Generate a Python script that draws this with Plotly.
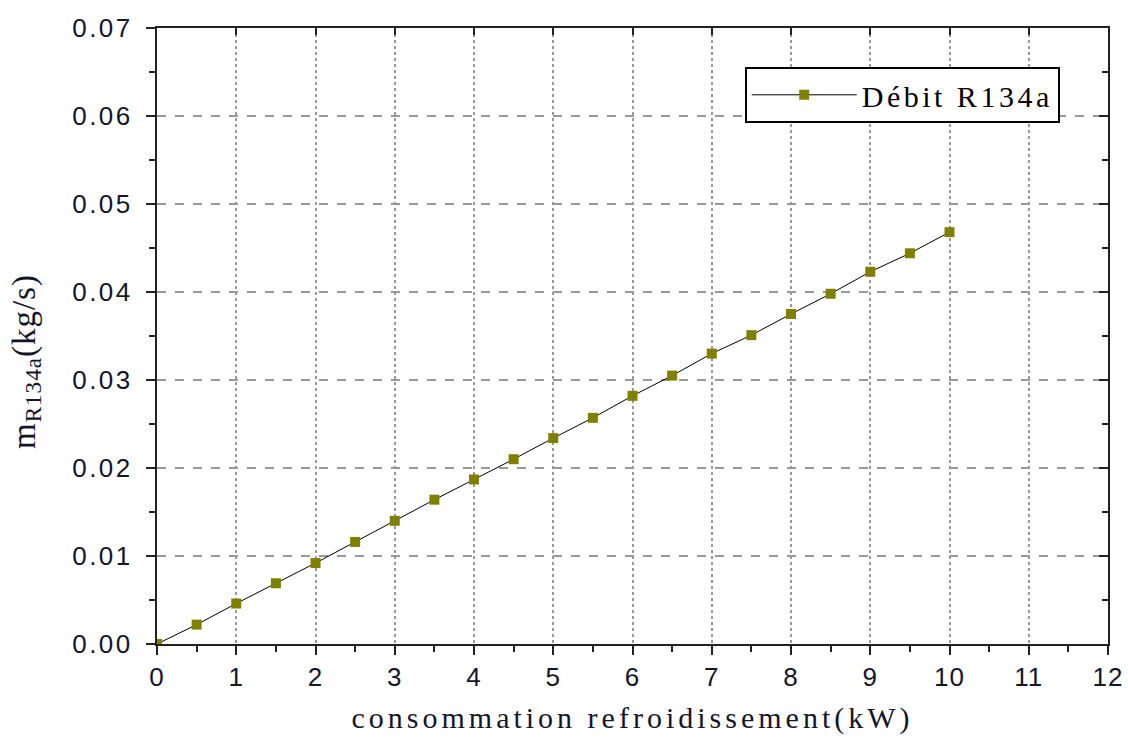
import plotly.graph_objects as go

x_kw = [0, 0.5, 1, 1.5, 2, 2.5, 3, 3.5, 4, 4.5, 5, 5.5, 6, 6.5, 7, 7.5, 8, 8.5, 9, 9.5, 10]
debit = [0.0, 0.0022, 0.0046, 0.0069, 0.0092, 0.0116, 0.0140, 0.0164, 0.0187, 0.0210,
         0.0234, 0.0257, 0.0282, 0.0305, 0.0330, 0.0351, 0.0375, 0.0398, 0.0423, 0.0444, 0.0468]
x_ticks = list(range(0, 13))
x_labels = [str(v) for v in x_ticks]
y_ticks = [0.0, 0.01, 0.02, 0.03, 0.04, 0.05, 0.06, 0.07]
y_labels = ["0.00", "0.01", "0.02", "0.03", "0.04", "0.05", "0.06", "0.07"]


def spaced(t, px):
    return '<span style="letter-spacing:%spx">%s</span>' % (px, t)


fig = go.Figure()
fig.add_trace(go.Scatter(
    x=x_kw, y=debit, mode="lines+markers",
    name=spaced("Débit R134a", 3.5),
    line=dict(color="black", width=1),
    marker=dict(symbol="square", size=10, color="#808000"),
))

tickfont = dict(family="Liberation Sans, Arial", size=26, color="#15152a")
fig.update_layout(
    width=1128, height=737,
    margin=dict(l=157, r=20, t=28, b=93),
    paper_bgcolor="white", plot_bgcolor="white",
    showlegend=True,
    legend=dict(
        x=0.618, y=0.937, xanchor="left", yanchor="top",
        bordercolor="black", borderwidth=2, bgcolor="white",
        font=dict(family="Liberation Serif, Times New Roman", size=30, color="black"),
        itemwidth=105, tracegroupgap=0,
    ),
    xaxis=dict(
        range=[0, 12], tickvals=x_ticks, ticktext=[spaced(t, 1) for t in x_labels],
        ticks="outside", ticklen=9, tickwidth=2,
        tickcolor="#222", tickfont=tickfont, automargin=False,
        showline=True, linecolor="#222", linewidth=2,
        showgrid=True, gridcolor="#999", griddash="dot", gridwidth=1.5,
        minor=dict(dtick=0.5, ticks="outside", ticklen=6, tickwidth=2, tickcolor="#222", showgrid=False),
        zeroline=False,
        title=dict(text=spaced("consommation refroidissement(kW)", 4),
                   font=dict(family="Liberation Serif, Times New Roman", size=30, color="#15152a"),
                   standoff=16),
    ),
    yaxis=dict(
        range=[0, 0.07], tickvals=y_ticks, ticktext=[spaced(t, 2.5) for t in y_labels],
        ticks="outside", ticklen=9, tickwidth=2, ticklabelstandoff=8,
        tickcolor="#222", tickfont=tickfont, automargin=False,
        showline=True, linecolor="#222", linewidth=2,
        showgrid=True, gridcolor="#999", griddash="dash", gridwidth=1.5,
        minor=dict(dtick=0.005, ticks="outside", ticklen=6, tickwidth=2, tickcolor="#222", showgrid=False),
        zeroline=False,
    ),
    xaxis2=dict(
        overlaying="x", side="top", range=[0, 12], tickvals=x_ticks, ticks="inside",
        ticklen=7, tickwidth=2, tickcolor="#222", showticklabels=False, automargin=False,
        showline=True, linecolor="#222", linewidth=2, showgrid=False, zeroline=False,
    ),
    yaxis2=dict(
        overlaying="y", side="right", range=[0, 0.07], tickvals=y_ticks, ticks="inside",
        ticklen=9, tickwidth=2, tickcolor="#222", showticklabels=False, automargin=False,
        minor=dict(dtick=0.005, ticks="inside", ticklen=6, tickwidth=2, tickcolor="#222"),
        showline=True, linecolor="#222", linewidth=2, showgrid=False, zeroline=False,
    ),
    annotations=[dict(
        text=spaced("m<sub>R134a</sub>(kg/s)", 1),
        xref="paper", yref="paper", x=-0.138, y=0.459, xanchor="center", yanchor="middle",
        textangle=-90, showarrow=False,
        font=dict(family="Liberation Serif, Times New Roman", size=33, color="#15152a"),
    )],
)
# invisible trace to activate the mirrored axes
fig.add_trace(go.Scatter(x=[None], y=[None], xaxis="x2", yaxis="y2", showlegend=False, hoverinfo="skip"))

fig.write_html("out.html")
